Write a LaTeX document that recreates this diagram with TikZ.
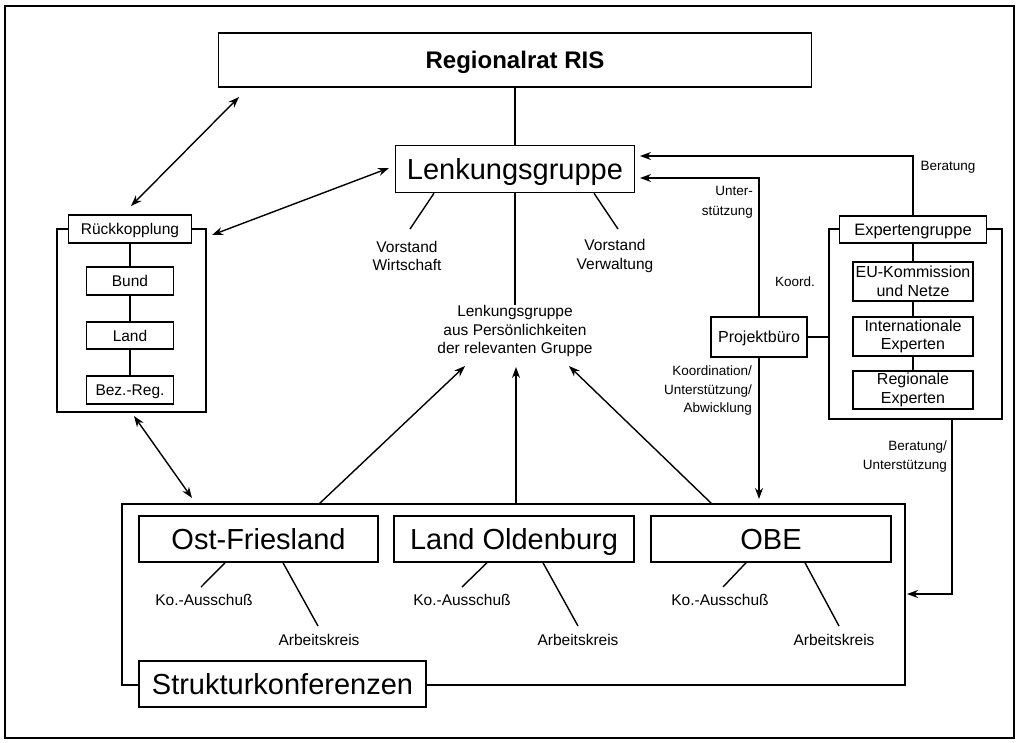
\documentclass[tikz,border=0pt]{standalone}
\usepackage{fontspec}
\setmainfont{Liberation Sans}
\usetikzlibrary{arrows.meta}
\begin{document}
\begin{tikzpicture}[x=1pt,y=-1pt,
  box/.style={draw,line width=1.5pt,inner sep=0pt,fill=white,align=center},
  ln/.style={line width=1.4pt},
  tip/.tip={Stealth[length=11pt,width=8pt]},
  arr/.style={ln,-tip},
  darr/.style={ln,tip-tip},
  big/.style={font=\fontsize{29}{34}\selectfont,text height=21pt,text depth=0pt},
  one/.style={text height=11.5pt,text depth=0pt},
  lbl/.style={inner sep=0pt,align=center,font=\fontsize{15.5}{18.5}\selectfont},
  slbl/.style={inner sep=0pt,font=\fontsize{13.5}{19}\selectfont}]
\useasboundingbox (0,0) rectangle (1019,742);
\draw[line width=2.4pt] (5,6) rectangle (1014,738);

% top
\node[box,minimum width=593pt,minimum height=54pt,font=\bfseries\fontsize{24}{28}\selectfont,text height=17.5pt,text depth=0pt] (ris) at (515,60) {Regionalrat RIS};
\node[box,big,minimum width=239pt,minimum height=47pt] (lenk) at (515,169) {Lenkungsgruppe};
\draw[ln] (ris) -- (lenk);

\node[lbl] (vw) at (407,256) {Vorstand\\Wirtschaft};
\node[lbl] (vv) at (615,256) {Vorstand\\Verwaltung};
\draw[ln] (lenk.south -| 434,0) -- (410,229);
\draw[ln] (lenk.south -| 594,0) -- (618,229);
\node[lbl] (center) at (515,331) {Lenkungsgruppe\\aus Persönlichkeiten\\der relevanten Gruppe};
\draw[ln] (lenk) -- (center.north);

% Rueckkopplung
\draw[ln] (57,229) rectangle (206,412);
\node[box,lbl,one,minimum width=123pt,minimum height=28pt] (rk) at (130,229) {Rückkopplung};
\node[box,lbl,one,minimum width=87pt,minimum height=28pt] (bund) at (130,281) {Bund};
\node[box,lbl,one,minimum width=87pt,minimum height=27pt] (land) at (130,335.5) {Land};
\node[box,lbl,one,minimum width=87pt,minimum height=28pt] (bez) at (130,390) {Bez.-Reg.};
\draw[ln] (rk) -- (bund);
\draw[ln] (bund) -- (land);
\draw[ln] (land) -- (bez);

\coordinate (risA) at (239,97);
\coordinate (rkA) at (131,206);
\draw[darr] (rkA) -- (risA);
\coordinate (rkB) at (212,235);
\coordinate (lenkA) at (389,168);
\draw[darr] (rkB) -- (lenkA);
\coordinate (rkC) at (134,416);
\coordinate (skA) at (192,498);
\draw[darr] (rkC) -- (skA);

% Expertengruppe
\draw[ln] (829,229) rectangle (1002,419);
\node[box,lbl,one,font=\fontsize{16.5}{18.5}\selectfont,minimum width=147pt,minimum height=27pt] (eg) at (913,229.5) {Expertengruppe};
\node[box,lbl,font=\fontsize{16}{18.5}\selectfont,minimum width=120pt,minimum height=39pt] (eu) at (913,281.5) {EU-Kommission\\und Netze};
\node[box,lbl,font=\fontsize{16}{18.5}\selectfont,minimum width=120pt,minimum height=39pt] (intl) at (913,336.5) {Internationale\\Experten};
\node[box,lbl,font=\fontsize{16}{18.5}\selectfont,minimum width=120pt,minimum height=38pt] (reg) at (913,390) {Regionale\\Experten};
\draw[ln] (eg) -- (eu);
\draw[ln] (eu) -- (intl);
\draw[ln] (intl) -- (reg);

% Projektbuero
\node[box,lbl,one,font=\fontsize{16}{18.5}\selectfont,minimum width=96pt,minimum height=40pt] (pb) at (759,337) {Projektbüro};
\coordinate (egL) at (829,337);
\draw[ln] (pb) -- (egL);

\coordinate (lenkB) at (640,156);
\coordinate (lenkC) at (640,178);
\draw[arr] (eg.north) |- (lenkB);
\draw[arr] (pb.north) |- (lenkC);

\node[slbl] (berat) at (948,167) {Beratung};
\node[slbl,anchor=east,align=right,font=\fontsize{13.5}{20}\selectfont] (unter) at (753,202) {Unter-\\stützung};
\node[slbl] (koord) at (795,282) {Koord.};
\node[slbl,anchor=east,align=right,font=\fontsize{13.5}{18.5}\selectfont] (koab) at (752,391) {Koordination/\\Unterstützung/\\Abwicklung};
\node[slbl,anchor=east,align=right,font=\fontsize{13.5}{19}\selectfont] (beru) at (947,456.5) {Beratung/\\Unterstützung};

% bottom container
\draw[ln] (122,504) rectangle (905,685);
\node[box,big,minimum width=287pt,minimum height=46pt] (sk) at (282.5,684) {Strukturkonferenzen};
\node[box,big,minimum width=239pt,minimum height=46pt] (ost) at (258.5,539) {Ost-Friesland};
\node[box,big,minimum width=240pt,minimum height=46pt] (lo) at (514,539) {Land Oldenburg};
\node[box,big,minimum width=240pt,minimum height=46pt] (obe) at (771,539) {OBE};

\coordinate (pbB) at (759,499);
\draw[arr] (pb.south) -- (pbB);
\coordinate (egB) at (952,419);
\coordinate (contR) at (907,594);
\draw[arr] (egB) |- (contR);

% arrows up
\coordinate (cA) at (319,504);
\coordinate (cB) at (516,504);
\coordinate (cC) at (712,504);
\draw[arr] (cA) -- (465,366);
\draw[arr] (cB) -- (516,367);
\draw[arr] (cC) -- (569,366);

% sub labels
\node[lbl] (ko1) at (204,600) {Ko.-Ausschuß};
\node[lbl] (ar1) at (319,640) {Arbeitskreis};
\node[lbl] (ko2) at (462,600) {Ko.-Ausschuß};
\node[lbl] (ar2) at (578,640) {Arbeitskreis};
\node[lbl] (ko3) at (720,600) {Ko.-Ausschuß};
\node[lbl] (ar3) at (834,640) {Arbeitskreis};
\draw[ln] (ost.south -| 225,0) -- (201,587);
\draw[ln] (ost.south -| 283,0) -- (318,626);
\draw[ln] (lo.south -| 487,0) -- (462,587);
\draw[ln] (lo.south -| 543,0) -- (578,626);
\draw[ln] (obe.south -| 746,0) -- (723,587);
\draw[ln] (obe.south -| 805,0) -- (839,626);
\end{tikzpicture}
\end{document}
